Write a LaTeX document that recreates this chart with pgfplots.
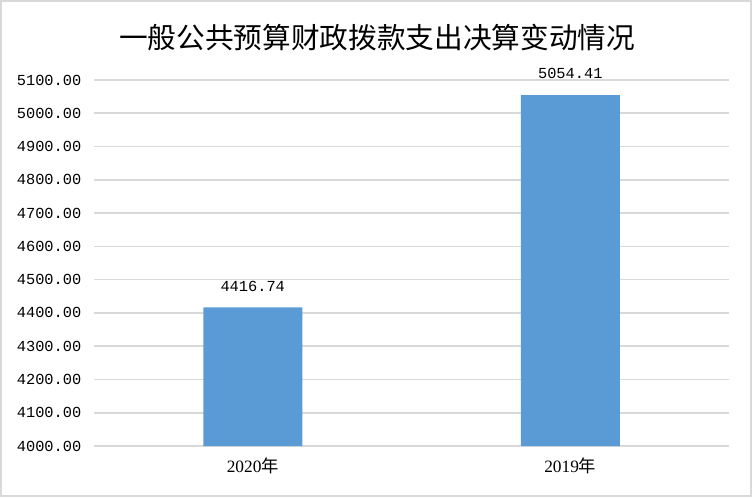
\documentclass[border=0pt]{standalone}
\usepackage{fontspec}
\usepackage{pgfplots}
\pgfplotsset{compat=1.18}
\setmainfont{Liberation Serif}
\newfontfamily\cjk{Noto Sans CJK SC}
\newfontfamily\monof{Liberation Mono}
\definecolor{barblue}{HTML}{5B9BD5}
\definecolor{gridgray}{HTML}{D9D9D9}
\begin{document}
\begin{tikzpicture}
\begin{axis}[
  scale only axis,
  width=476.25pt, height=274.5pt,
  xmin=-0.5, xmax=1.5,
  ymin=4000, ymax=5100,
  ytick={4000,4100,...,5100},
  xtick={0,1},
  xticklabels={2020{\cjk 年},2019{\cjk 年}},
  axis line style={draw=none},
  major tick length=0pt,
  ymajorgrids,
  grid style={gridgray, line width=1.2pt},
  /pgf/number format/assume math mode=true,
  yticklabel style={font=\monof\fontsize{11.5}{11.5}\selectfont, xshift=-6pt,
    /pgf/number format/.cd, fixed, fixed zerofill, precision=2, 1000 sep={}},
  xticklabel style={font=\fontsize{13}{13}\selectfont, yshift=-5.5pt},
  ybar, bar width=74.25pt, bar shift=0pt,
  nodes near coords,
  nodes near coords style={font=\monof\fontsize{11.5}{11.5}\selectfont, yshift=8.5pt,
    /pgf/number format/.cd, fixed, fixed zerofill, precision=2, 1000 sep={}},
  clip=true,
]
\addplot[fill=barblue, draw=none] coordinates {(0,4416.74) (1,5054.41)};
\coordinate (sw) at (rel axis cs:0,0);
\coordinate (ne) at (rel axis cs:1,1);
\coordinate (tt) at (rel axis cs:0.4457,1.1148);
\end{axis}
\draw[gridgray, line width=1.5pt] ([shift={(-69.75pt,-37.5pt)}]sw) rectangle ([shift={(16.5pt,59.25pt)}]ne);
\node[font=\cjk\fontsize{21.5}{21.5}\selectfont, anchor=center] at (tt) {一般公共预算财政拨款支出决算变动情况};
\end{tikzpicture}
\end{document}
